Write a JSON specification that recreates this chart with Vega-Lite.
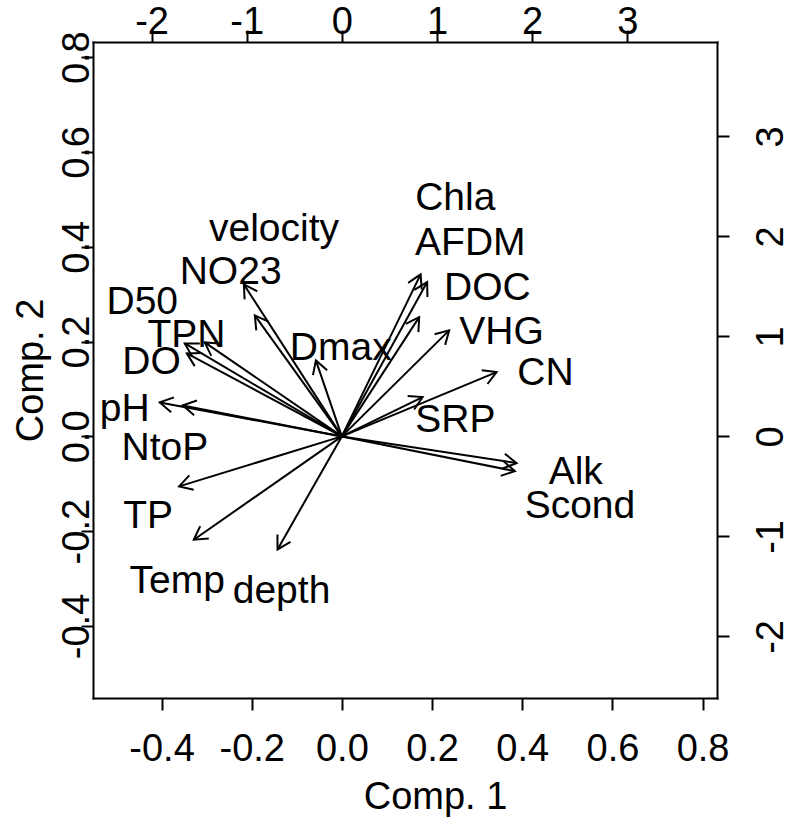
{
"$schema": "https://vega.github.io/schema/vega-lite/v6.json",
"width": 624,
"height": 656,
"autosize": {"type": "none"},
"padding": {"left": 93, "top": 42, "right": 72, "bottom": 124},
"background": "white",
"config": {
  "view": {"stroke": null},
  "font": "Liberation Sans",
  "axis": {"domainColor": "black", "tickColor": "black", "labelColor": "black", "titleColor": "black", "domainWidth": 2, "tickWidth": 2, "domainCap": "square", "grid": false, "labelFont": "Liberation Sans", "titleFont": "Liberation Sans", "labelFontSize": 38, "titleFontSize": 38, "titleFontWeight": "normal", "labelFlush": false, "labelOverlap": false, "labelExpr": "replace(datum.label, '\u2212', '-')"}
},
"datasets": {
  "vars": [
    {"name": "Chla", "ax": 0.828, "ay": 1.62, "lx": 1.193, "ly": 2.402},
    {"name": "AFDM", "ax": 0.897, "ay": 1.543, "lx": 1.351, "ly": 1.952},
    {"name": "DOC", "ax": 0.813, "ay": 1.193, "lx": 1.53, "ly": 1.502},
    {"name": "VHG", "ax": 1.128, "ay": 1.06, "lx": 1.679, "ly": 1.068},
    {"name": "CN", "ax": 1.627, "ay": 0.643, "lx": 2.14, "ly": 0.652},
    {"name": "SRP", "ax": 0.849, "ay": 0.393, "lx": 1.193, "ly": 0.185},
    {"name": "Alk", "ax": 1.837, "ay": -0.267, "lx": 2.459, "ly": -0.332},
    {"name": "Scond", "ax": 1.819, "ay": -0.347, "lx": 2.503, "ly": -0.673},
    {"name": "depth", "ax": -0.676, "ay": -1.13, "lx": -0.634, "ly": -1.53},
    {"name": "Temp", "ax": -1.556, "ay": -1.033, "lx": -1.73, "ly": -1.43},
    {"name": "TP", "ax": -1.711, "ay": -0.5, "lx": -2.037, "ly": -0.773},
    {"name": "NtoP", "ax": -1.672, "ay": 0.31, "lx": -1.861, "ly": -0.098},
    {"name": "pH", "ax": -1.914, "ay": 0.34, "lx": -2.282, "ly": 0.293},
    {"name": "DO", "ax": -1.63, "ay": 0.83, "lx": -2.001, "ly": 0.768},
    {"name": "TPN", "ax": -1.441, "ay": 0.94, "lx": -1.633, "ly": 1.035},
    {"name": "D50", "ax": -1.651, "ay": 0.93, "lx": -2.098, "ly": 1.368},
    {"name": "NO23", "ax": -1.03, "ay": 1.52, "lx": -1.169, "ly": 1.668},
    {"name": "velocity", "ax": -0.915, "ay": 1.21, "lx": -0.713, "ly": 2.093},
    {"name": "Dmax", "ax": -0.273, "ay": 0.76, "lx": -0.011, "ly": 0.902}
  ]
},
"data": {"name": "vars"},
"layer": [
  {
    "mark": {"type": "point", "opacity": 0},
    "encoding": {
      "x": {"field": "lx", "type": "quantitative", "scale": {"domain": [-0.552, 0.832], "nice": false, "zero": false},
            "axis": {"orient": "bottom", "values": [-0.4, -0.2, 0, 0.2, 0.4, 0.6, 0.8], "format": ".1f", "title": "Comp. 1", "tickSize": 12, "labelPadding": 20, "labelBaseline": "top", "labelAlign": "center", "titleX": 342, "titleY": 110, "titleBaseline": "alphabetic", "titleAlign": "center"}},
      "y": {"field": "ly", "type": "quantitative", "scale": {"domain": [-0.552, 0.832], "nice": false, "zero": false},
            "axis": {"orient": "left", "values": [-0.4, -0.2, 0, 0.2, 0.4, 0.6, 0.8], "format": ".1f", "title": "Comp. 2", "tickSize": 12, "labelAngle": -90, "labelAlign": "center", "labelBaseline": "alphabetic", "labelPadding": -7, "titleAngle": -90, "titleX": -51, "titleY": 328, "titleAlign": "center", "titleBaseline": "alphabetic"}}
    }
  },
  {
    "layer": [
      {
        "mark": {"type": "rule", "color": "black", "strokeWidth": 2},
        "encoding": {
          "x": {"field": "ax", "type": "quantitative", "scale": {"domain": [-2.616, 3.944], "nice": false, "zero": false},
                "axis": {"orient": "top", "values": [-2, -1, 0, 1, 2, 3], "format": "d", "title": null, "tickSize": 12, "labelPadding": -3, "labelBaseline": "alphabetic", "labelAlign": "center"}},
          "y": {"field": "ay", "type": "quantitative", "scale": {"domain": [-2.616, 3.944], "nice": false, "zero": false},
                "axis": {"orient": "right", "values": [-2, -1, 0, 1, 2, 3], "format": "d", "title": null, "tickSize": 12, "labelAngle": -90, "labelAlign": "center", "labelBaseline": "top", "labelPadding": 23}},
          "x2": {"datum": 0},
          "y2": {"datum": 0}
        }
      },
      {
        "transform": [{"calculate": "-atan2(datum.ay * 100, datum.ax * 95.12) * 180 / PI", "as": "ang"}],
        "mark": {"type": "point", "shape": "M -1 -0.577 L 0 0 L -1 0.577", "filled": false, "color": "black", "strokeWidth": 2, "size": 676, "opacity": 1},
        "encoding": {
          "x": {"field": "ax", "type": "quantitative", "scale": {"domain": [-2.616, 3.944], "nice": false, "zero": false},
                "axis": {"orient": "top", "values": [-2, -1, 0, 1, 2, 3], "format": "d", "title": null, "tickSize": 12, "labelPadding": -3, "labelBaseline": "alphabetic", "labelAlign": "center"}},
          "y": {"field": "ay", "type": "quantitative", "scale": {"domain": [-2.616, 3.944], "nice": false, "zero": false},
                "axis": {"orient": "right", "values": [-2, -1, 0, 1, 2, 3], "format": "d", "title": null, "tickSize": 12, "labelAngle": -90, "labelAlign": "center", "labelBaseline": "top", "labelPadding": 23}},
          "angle": {"field": "ang", "type": "quantitative", "scale": null}
        }
      },
      {
        "mark": {"type": "text", "fontSize": 39, "font": "Liberation Sans", "color": "black", "align": "center", "baseline": "middle", "dy": 2},
        "encoding": {
          "x": {"field": "lx", "type": "quantitative", "scale": {"domain": [-2.616, 3.944], "nice": false, "zero": false},
                "axis": {"orient": "top", "values": [-2, -1, 0, 1, 2, 3], "format": "d", "title": null, "tickSize": 12, "labelPadding": -3, "labelBaseline": "alphabetic", "labelAlign": "center"}},
          "y": {"field": "ly", "type": "quantitative", "scale": {"domain": [-2.616, 3.944], "nice": false, "zero": false},
                "axis": {"orient": "right", "values": [-2, -1, 0, 1, 2, 3], "format": "d", "title": null, "tickSize": 12, "labelAngle": -90, "labelAlign": "center", "labelBaseline": "top", "labelPadding": 23}},
          "text": {"field": "name"}
        }
      }
    ]
  }
],
"resolve": {"scale": {"x": "independent", "y": "independent"}}
}
